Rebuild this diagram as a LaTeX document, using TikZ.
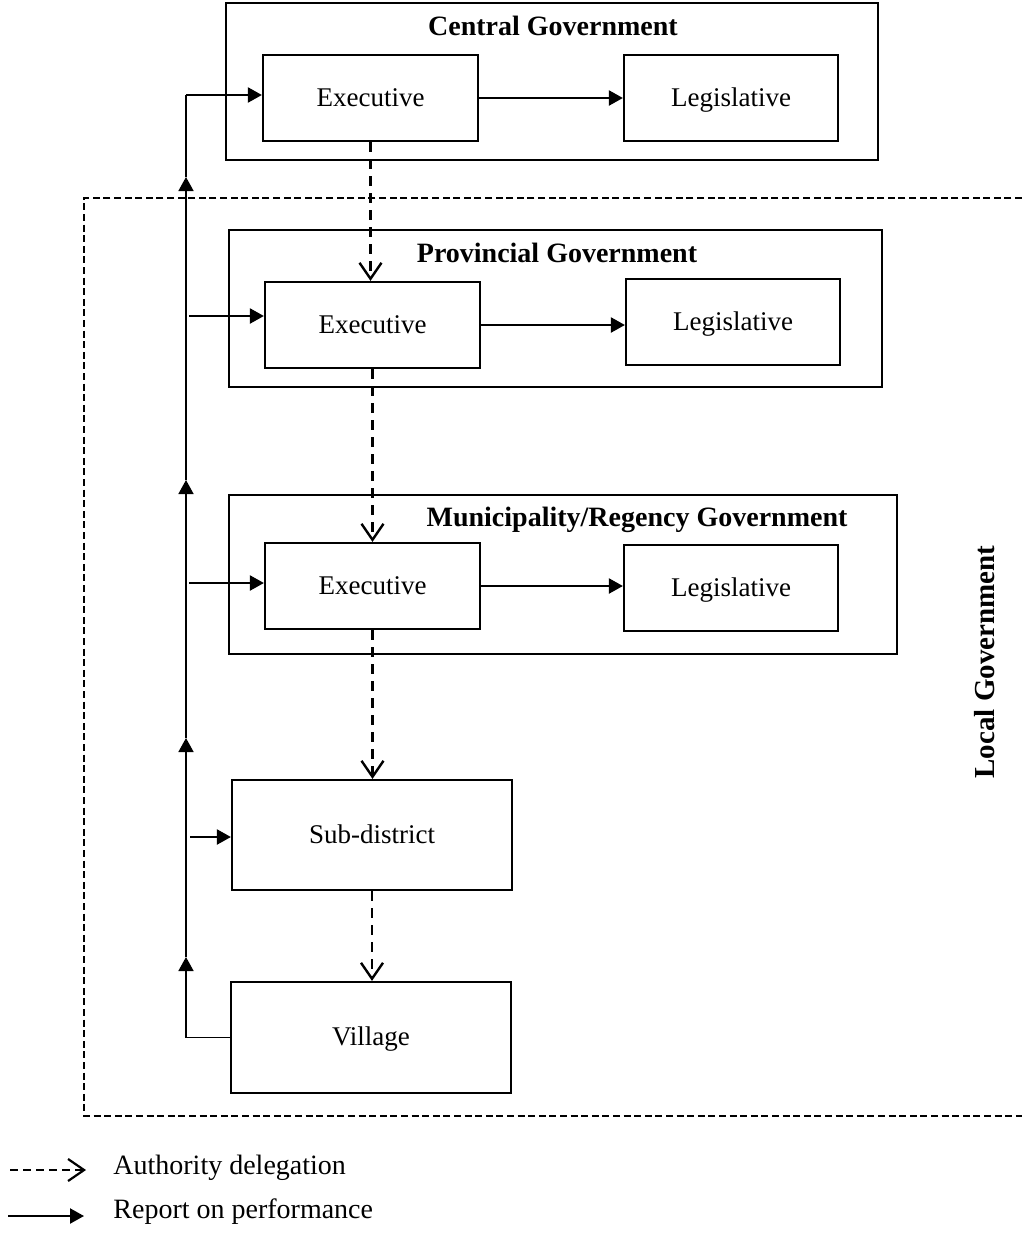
\documentclass[tikz,border=0pt]{standalone}
\usepackage{fontspec}
\setmainfont{Liberation Serif}
\usetikzlibrary{arrows.meta}
\begin{document}
\begin{tikzpicture}[x=0.5pt, y=-0.5pt,
framenode/.style={draw=black, line width=1.1pt, inner sep=0pt},
boxnode/.style={draw=black, line width=1.1pt, inner sep=0pt, minimum width=107.5pt, minimum height=43pt, text height=10.5pt, text depth=2.5pt, font=\fontsize{13.5}{16}\selectfont},
titlenode/.style={font=\bfseries\fontsize{14}{17}\selectfont},
legendtext/.style={anchor=west, inner sep=0pt, font=\fontsize{14}{17}\selectfont},
delegation/.style={line width=1.2pt, dash pattern=on 5pt off 3.5pt, -{Straight Barb[length=8pt, width=11pt]}},
report/.style={line width=1.1pt, -{Triangle[length=7pt, width=7.5pt]}},
spineline/.style={line width=0.8pt},
localframe/.style={line width=1pt, dash pattern=on 3.5pt off 1.8pt}]
\useasboundingbox (0,0) rectangle (1022,1237);

% central government
\node[framenode, minimum width=326pt, minimum height=78.5pt] (cgov) at (552,81.5) {};
\node[titlenode] (ctitle) at (553,26) {Central Government};
\node[boxnode] (cexe) at (370.5,98) {Executive};
\node[boxnode, minimum width=107pt] (cleg) at (731,98) {Legislative};

% local government
\draw[localframe] (1022,198) -| (84,1116) -- (1022,1116);
\node[titlenode, font=\bfseries\fontsize{14.5}{17}\selectfont, rotate=90] (ltitle) at (985,662) {Local Government};

\node[framenode, minimum width=326.5pt, minimum height=78.5pt] (pgov) at (555.5,308.5) {};
\node[titlenode] (ptitle) at (557,253) {Provincial Government};
\node[boxnode] (pexe) at (372.5,325) {Executive};
\node[boxnode, minimum width=107pt] (pleg) at (733,322) {Legislative};

\node[framenode, minimum width=334pt, minimum height=79.5pt] (mgov) at (563,574.5) {};
\node[titlenode] (mtitle) at (637,520) {Municipality/Regency Government};
\node[boxnode] (mexe) at (372.5,586) {Executive};
\node[boxnode, minimum width=107pt] (mleg) at (731,588) {Legislative};

\node[boxnode, minimum width=140pt, minimum height=55pt] (subd) at (372,835) {Sub-district};
\node[boxnode, minimum width=140pt, minimum height=55.5pt] (vill) at (371,1037.5) {Village};

% authority delegation
\draw[delegation] (cexe.south) -- (cexe.south |- pexe.north);
\draw[delegation] (pexe.south) -- (pexe.south |- mexe.north);
\draw[delegation] (mexe.south) -- (mexe.south |- subd.north);
\draw[delegation] (subd.south) -- (subd.south |- vill.north);

% executive to legislative
\draw[report] (cexe.east) -- (cexe.east -| cleg.west);
\draw[report] (pexe.east) -- (pexe.east -| pleg.west);
\draw[report] (mexe.east) -- (mexe.east -| mleg.west);

% report on performance
\coordinate (spine) at (186,0);
\coordinate (vbase) at (vill.west -| spine);
\coordinate (r1) at (186,957);
\coordinate (r2) at (186,738);
\coordinate (r3) at (186,480);
\coordinate (r4) at (186,177);
\coordinate (rtop) at (186,95);
\draw[spineline] (vill.west) -- (vbase);
\draw[report, line width=0.8pt] (vbase) -- (r1);
\draw[report, line width=0.8pt] (r1) -- (r2);
\draw[report, line width=0.8pt] (r2) -- (r3);
\draw[report, line width=0.8pt] (r3) -- (r4);
\draw[spineline] (r4) -- (rtop);
\draw[report] (rtop) -- (rtop -| cexe.west);

\coordinate (pin) at (189,316);
\coordinate (min) at (189,583);
\coordinate (sin) at (190,837);
\draw[report] (pin) -- (pin -| pexe.west);
\draw[report] (min) -- (min -| mexe.west);
\draw[report] (sin) -- (sin -| subd.west);

% legend
\coordinate (d0) at (10,1170);
\coordinate (d1) at (86,1170);
\coordinate (s0) at (8,1216);
\coordinate (s1) at (84,1216);
\draw[line width=1.1pt, dash pattern=on 4pt off 2.5pt, -{Straight Barb[length=8pt, width=11pt]}] (d0) -- (d1);
\draw[report] (s0) -- (s1);
\node[legendtext] (dtext) at (113,1168) {Authority delegation};
\node[legendtext] (stext) at (113,1212) {Report on performance};
\end{tikzpicture}
\end{document}
